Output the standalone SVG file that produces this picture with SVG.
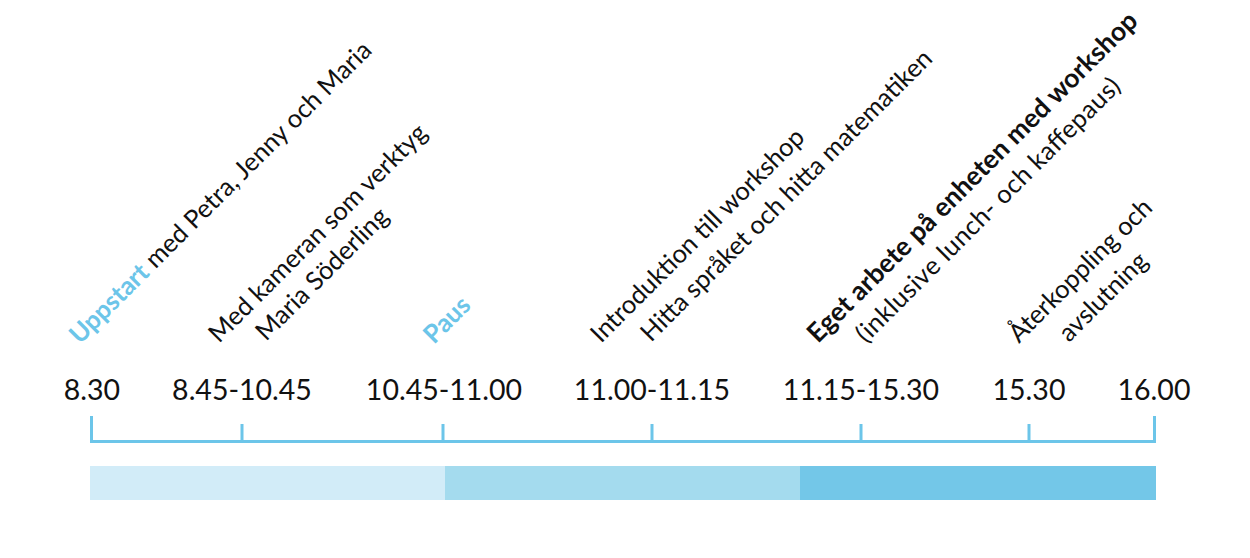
<svg xmlns="http://www.w3.org/2000/svg" width="1250" height="558" viewBox="0 0 1250 558">
<style>
.t{font-family:Lato,"Open Sans","Liberation Sans",sans-serif;font-size:28.5px;fill:#111;text-anchor:middle}
.r{font-family:Lato,"Open Sans","Liberation Sans",sans-serif;font-size:25.5px;fill:#111}
.b{font-weight:bold;fill:#6cc5e9}
.k{font-weight:bold;font-size:26.5px}
.ax{stroke:#6cc5e9;stroke-width:3;fill:none;stroke-linecap:butt}
</style>
<rect width="1250" height="558" fill="#fff"/>
<g id="bars">
<rect x="90" y="466" width="355" height="34" fill="#d2ecf8"/>
<rect x="445" y="466" width="355" height="34" fill="#a4dbee"/>
<rect x="800" y="466" width="356" height="34" fill="#73c7e8"/>
</g>
<g id="connectors" class="ax">
<path d="M91.5 416 V441.5 H1154.5 V416"/>
<path d="M242 424 V441.5 M443 424 V441.5 M652 424 V441.5 M861 424 V441.5 M1029 424 V441.5"/>
</g>
<g id="n1"><text class="t" x="92" y="400">8.30</text>
<text class="r" transform="translate(80,345) rotate(-45)"><tspan class="b">Uppstart</tspan> med Petra, Jenny och Maria</text></g>
<g id="n2"><text class="t" x="242" y="400">8.45-10.45</text>
<text class="r" transform="translate(219,344) rotate(-45)">Med kameran som verktyg</text>
<text class="r" transform="translate(266,342) rotate(-45)">Maria Söderling</text></g>
<g id="n3"><text class="t" x="444" y="400">10.45-11.00</text>
<text class="r" transform="translate(434,345) rotate(-45)"><tspan class="b">Paus</tspan></text></g>
<g id="n4"><text class="t" x="652" y="400">11.00-11.15</text>
<text class="r" transform="translate(601,344) rotate(-45)">Introduktion till workshop</text>
<text class="r" transform="translate(651,343) rotate(-45)">Hitta språket och hitta matematiken</text></g>
<g id="n5"><text class="t" x="861" y="400">11.15-15.30</text>
<text class="r k" transform="translate(818,344) rotate(-45)">Eget arbete på enheten med workshop</text>
<text class="r" transform="translate(866,344) rotate(-45)" textLength="362" lengthAdjust="spacing">(inklusive lunch- och kaffepaus)</text></g>
<g id="n6"><text class="t" x="1029" y="400">15.30</text>
<text class="r" transform="translate(1019,344) rotate(-45)">Återkoppling och</text>
<text class="r" transform="translate(1069,343) rotate(-45)">avslutning</text></g>
<g id="n7"><text class="t" x="1154" y="400">16.00</text></g>
</svg>
